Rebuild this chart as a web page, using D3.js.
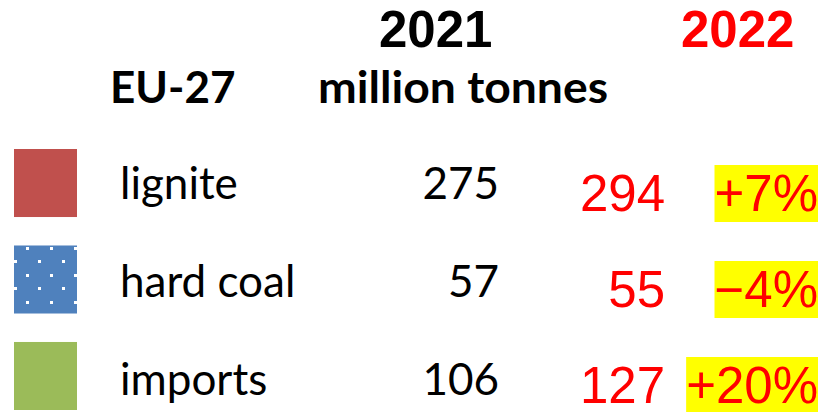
<!DOCTYPE html>
<html><head><meta charset="utf-8">
<script src="https://cdn.jsdelivr.net/npm/d3@7"></script>
<style>body{margin:0;background:#fff}</style>
</head><body>
<svg id="c" width="820" height="412"></svg>
<script>
// ---- data ----
const categories = ["lignite", "hard coal", "imports"];
const values2021 = [275, 57, 106];
const values2022 = [294, 55, 127];
const changeLabels = ["+7%", "\u22124%", "+20%"];
const regionLabel = "EU-27";
const unitLabel = "million tonnes";
const yearLabels = ["2021", "2022"];
const swatchColors = ["#C0504D", "#4F81BD", "#9BBB59"];

// ---- layout ----
const svg = d3.select("#c");
const calibriLike = "Lato, 'Open Sans', sans-serif";
const arial = "'Liberation Sans', Arial, sans-serif";

const rowBand = d3.scaleBand().domain(categories).range([149, 410]).paddingInner(0.295).paddingOuter(0);
const labelY = d3.scalePoint().domain(categories).range([199, 395]);
const changeY = d3.scalePoint().domain(categories).range([211, 403]);

// pattern for hard coal
const defs = svg.append("defs");
const pat = defs.append("pattern").attr("id", "dots")
  .attr("patternUnits", "userSpaceOnUse")
  .attr("x", 0).attr("y", 0).attr("width", 24).attr("height", 27);
pat.append("rect").attr("width", 24).attr("height", 27).attr("fill", swatchColors[1]);
pat.append("rect").attr("x", 2).attr("y", 4).attr("width", 3).attr("height", 3).attr("fill", "#fff");
pat.append("rect").attr("x", 14).attr("y", 17).attr("width", 3).attr("height", 3).attr("fill", "#fff");

// swatches
svg.selectAll("rect.sw").data(categories).join("rect")
  .attr("class", "sw")
  .attr("x", 14).attr("width", 63)
  .attr("y", d => rowBand(d)).attr("height", rowBand.bandwidth())
  .attr("fill", (d, i) => i === 1 ? "url(#dots)" : swatchColors[i]);

// headers
svg.append("text").text(yearLabels[0])
  .attr("x", 379).attr("y", 47)
  .attr("font-family", arial).attr("font-weight", "bold").attr("font-size", 51).attr("fill", "#000");
svg.append("text").text(yearLabels[1])
  .attr("x", 681).attr("y", 47)
  .attr("font-family", arial).attr("font-weight", "bold").attr("font-size", 51).attr("fill", "#FF0000");
svg.append("text").text(regionLabel)
  .attr("x", 110).attr("y", 103)
  .attr("font-family", calibriLike).attr("font-weight", "bold").attr("font-size", 44).attr("fill", "#000");
svg.append("text").text(unitLabel)
  .attr("x", 318).attr("y", 103)
  .attr("textLength", 290).attr("lengthAdjust", "spacingAndGlyphs")
  .attr("font-family", calibriLike).attr("font-weight", "bold").attr("font-size", 44).attr("fill", "#000");

// labels
svg.selectAll("text.lab").data(categories).join("text")
  .attr("class", "lab").text(d => d)
  .attr("x", 120).attr("y", d => labelY(d))
  .attr("font-family", calibriLike).attr("font-size", 44).attr("fill", "#000");

// 2021 values
svg.selectAll("text.v21").data(values2021).join("text")
  .attr("class", "v21").text(d => d)
  .attr("x", 499).attr("y", (d, i) => labelY(categories[i]))
  .attr("text-anchor", "end")
  .attr("font-family", calibriLike).attr("font-size", 44).attr("fill", "#000");

// 2022 values
svg.selectAll("text.v22").data(values2022).join("text")
  .attr("class", "v22").text(d => d)
  .attr("x", 665).attr("y", (d, i) => changeY(categories[i]))
  .attr("text-anchor", "end")
  .attr("font-family", arial).attr("font-size", 51).attr("fill", "#FF0000");

// change labels with yellow boxes
const chg = svg.selectAll("g.chg").data(changeLabels).join("g").attr("class", "chg");
chg.append("rect").attr("fill", "#FFFF00");
chg.append("text").text(d => d)
  .attr("x", 818).attr("y", (d, i) => changeY(categories[i]))
  .attr("text-anchor", "end")
  .attr("font-family", arial).attr("font-size", 51).attr("fill", "#FF0000");
chg.each(function() {
  const g = d3.select(this);
  const b = g.select("text").node().getBBox();
  g.select("rect").attr("x", b.x).attr("y", b.y).attr("width", b.width).attr("height", b.height);
});
</script>
</body></html>
